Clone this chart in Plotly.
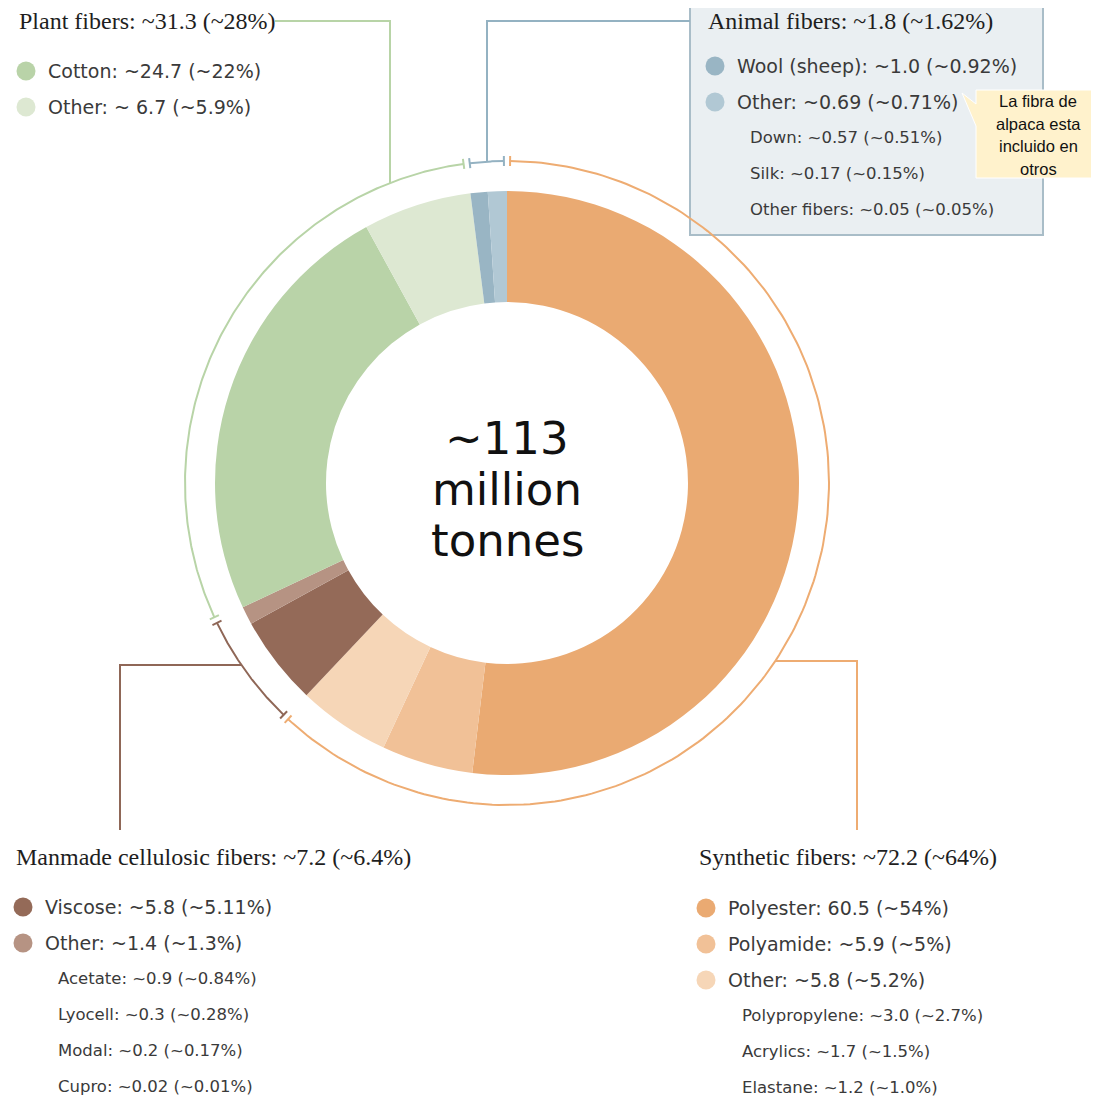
import numpy as np
import plotly.graph_objects as go

W, H = 1099, 1097          # window size (reference pixels)
OFF = 8                     # page body margin
FW, FH = W - OFF, H - OFF   # figure size
CX, CY = 507, 483
R_OUT, R_IN = 292, 181
R_ARC = 322

# ---- data (slices, clockwise from 12 o'clock) ----
fibers = ["Polyester", "Polyamide", "Other synthetic", "Viscose", "Other cellulosic",
          "Cotton", "Other plant", "Wool (sheep)", "Other animal"]
fiber_group = ["Synthetic", "Synthetic", "Synthetic", "Manmade", "Manmade",
               "Plant", "Plant", "Animal", "Animal"]
share_drawn = [51.9, 5.05, 5.1, 4.95, 1.0, 24.0, 6.0, 0.95, 1.05]   # % of ring as drawn
slice_colors = ["#eaaa72", "#f1c197", "#f6d6b7", "#946a58", "#b69383",
                "#b9d3a8", "#dde8d2", "#99b5c4", "#b1c8d4"]

group_order = ["Synthetic", "Manmade", "Plant", "Animal"]
group_colors = {"Synthetic": "#eeac72", "Manmade": "#8f6757", "Plant": "#b8d4a7", "Animal": "#94b2c2"}

group_titles = {
    "Plant": "Plant fibers: ~31.3 (~28%)",
    "Animal": "Animal fibers: ~1.8 (~1.62%)",
    "Manmade": "Manmade cellulosic fibers: ~7.2 (~6.4%)",
    "Synthetic": "Synthetic fibers: ~72.2 (~64%)",
}
group_items = {
    "Plant": ["Cotton: ~24.7 (~22%)", "Other: ~ 6.7 (~5.9%)"],
    "Animal": ["Wool (sheep): ~1.0 (~0.92%)", "Other: ~0.69 (~0.71%)"],
    "Manmade": ["Viscose: ~5.8 (~5.11%)", "Other: ~1.4 (~1.3%)"],
    "Synthetic": ["Polyester: 60.5 (~54%)", "Polyamide: ~5.9 (~5%)", "Other: ~5.8 (~5.2%)"],
}
group_subitems = {
    "Plant": [],
    "Animal": ["Down: ~0.57 (~0.51%)", "Silk: ~0.17 (~0.15%)", "Other fibers: ~0.05 (~0.05%)"],
    "Manmade": ["Acetate: ~0.9 (~0.84%)", "Lyocell: ~0.3 (~0.28%)", "Modal: ~0.2 (~0.17%)",
                "Cupro: ~0.02 (~0.01%)"],
    "Synthetic": ["Polypropylene: ~3.0 (~2.7%)", "Acrylics: ~1.7 (~1.5%)", "Elastane: ~1.2 (~1.0%)"],
}
center_lines = ["~113", "million", "tonnes"]
callout_lines = ["La fibra de", "alpaca esta", "incluido en", "otros"]

# ---- layout positions (reference pixels) ----
block_pos = {
    "Plant": dict(tx=17, ty=21, mx=26, iy=71, sx=None),
    "Animal": dict(tx=706, ty=21, mx=715, iy=66, sx=748),
    "Manmade": dict(tx=14, ty=857, mx=23, iy=907, sx=56),
    "Synthetic": dict(tx=697, ty=857, mx=706, iy=908, sx=740),
}
ITEM_STEP = 36
SUB_STEP = 36

TITLE_FONT = dict(family="Liberation Serif", size=24, color="#1e1e1e")
ITEM_FONT = dict(family="DejaVu Sans", size=19, color="#3a3a3a")
SUB_FONT = dict(family="DejaVu Sans", size=16.5, color="#3a3a3a")

fig = go.Figure()

shapes = [
    dict(type="rect", xref="x", yref="y", x0=690, x1=1043, y0=-5, y1=235,
         fillcolor="#eaeff2", line=dict(color="#a9bdc8", width=2), layer="below"),
    dict(type="path", xref="x", yref="y",
         path="M 976,90 L 1099,90 L 1099,178 L 976,178 L 976,126 L 962,93 L 976,104 Z",
         fillcolor="#fff2cc", line=dict(color="#ffffff", width=1), layer="above"),
]

# donut
fig.add_trace(go.Pie(
    labels=fibers, values=share_drawn, sort=False, direction="clockwise", rotation=0,
    hole=R_IN / R_OUT, textinfo="none", hoverinfo="label",
    marker=dict(colors=slice_colors, line=dict(width=0)),
    domain=dict(x=[(CX - R_OUT - OFF) / FW, (CX + R_OUT - OFF) / FW],
                y=[(H - (CY + R_OUT)) / FH, (H - (CY - R_OUT)) / FH]),
    showlegend=False,
))


def pt(theta_deg, r):
    t = np.radians(theta_deg)
    return CX + r * np.sin(t), CY - r * np.cos(t)


total = sum(share_drawn)
cum = 0.0
group_span = {}
for v, g in zip(share_drawn, fiber_group):
    a0 = cum / total * 360
    cum += v
    a1 = cum / total * 360
    if g in group_span:
        group_span[g][1] = a1
    else:
        group_span[g] = [a0, a1]

INSET = 0.55
for g in group_order:
    a0, a1 = group_span[g]
    a0 += INSET
    a1 -= INSET
    th = np.linspace(a0, a1, 200)
    xs, ys = pt(th, R_ARC)
    fig.add_trace(go.Scatter(x=xs, y=ys, mode="lines", line=dict(color=group_colors[g], width=2),
                             hoverinfo="skip", showlegend=False))
    for a in (a0, a1):
        x1, y1 = pt(a, R_ARC - 5)
        x2, y2 = pt(a, R_ARC + 5)
        fig.add_trace(go.Scatter(x=[x1, x2], y=[y1, y2], mode="lines",
                                 line=dict(color=group_colors[g], width=2),
                                 hoverinfo="skip", showlegend=False))


def arc_y_top(x):
    return CY - np.sqrt(R_ARC ** 2 - (x - CX) ** 2)


def arc_x(y, side):
    return CX + side * np.sqrt(R_ARC ** 2 - (y - CY) ** 2)


leaders = {
    "Plant": ([275, 390, 390], [21, 21, arc_y_top(390)]),
    "Animal": ([690, 487, 487], [21, 21, arc_y_top(487)]),
    "Synthetic": ([857, 857, arc_x(661, 1)], [830, 661, 661]),
    "Manmade": ([120, 120, arc_x(665, -1)], [830, 665, 665]),
}
for g, (lx, ly) in leaders.items():
    fig.add_trace(go.Scatter(x=lx, y=ly, mode="lines", line=dict(color=group_colors[g], width=2),
                             hoverinfo="skip", showlegend=False))

annotations = []
for g in group_order:
    p = block_pos[g]
    annotations.append(dict(x=p["tx"], y=p["ty"], xref="x", yref="y", text=group_titles[g],
                            showarrow=False, xanchor="left", yanchor="middle", font=TITLE_FONT))
    cols = [c for c, fg in zip(slice_colors, fiber_group) if fg == g]
    ys = [p["iy"] + i * ITEM_STEP for i in range(len(group_items[g]))]
    fig.add_trace(go.Scatter(x=[p["mx"]] * len(ys), y=ys, mode="markers",
                             marker=dict(size=19, color=cols[:len(ys)], line=dict(width=0)),
                             hoverinfo="skip", showlegend=False))
    for y, t in zip(ys, group_items[g]):
        annotations.append(dict(x=p["mx"] + 20, y=y, xref="x", yref="y", text=t, showarrow=False,
                                xanchor="left", yanchor="middle", font=ITEM_FONT))
    y0 = ys[-1] + ITEM_STEP - 1
    for i, t in enumerate(group_subitems[g]):
        annotations.append(dict(x=p["sx"], y=y0 + i * SUB_STEP, xref="x", yref="y", text=t,
                                showarrow=False, xanchor="left", yanchor="middle", font=SUB_FONT))

for i, t in enumerate(center_lines):
    annotations.append(dict(x=CX, y=438 + i * 51, xref="x", yref="y", text=t, showarrow=False,
                            xanchor="center", yanchor="middle",
                            font=dict(family="DejaVu Sans", size=45, color="#111111")))

for i, t in enumerate(callout_lines):
    annotations.append(dict(x=1038, y=101 + i * 22.6, xref="x", yref="y", text=t, showarrow=False,
                            xanchor="center", yanchor="middle",
                            font=dict(family="Liberation Sans", size=16.5, color="#111111")))

fig.update_layout(
    width=FW, height=FH, margin=dict(l=0, r=0, t=0, b=0),
    paper_bgcolor="white", plot_bgcolor="rgba(0,0,0,0)",
    xaxis=dict(range=[OFF, W], visible=False, fixedrange=True),
    yaxis=dict(range=[H, OFF], visible=False, fixedrange=True),
    shapes=shapes, annotations=annotations, showlegend=False,
)

fig.write_html("out.html")
